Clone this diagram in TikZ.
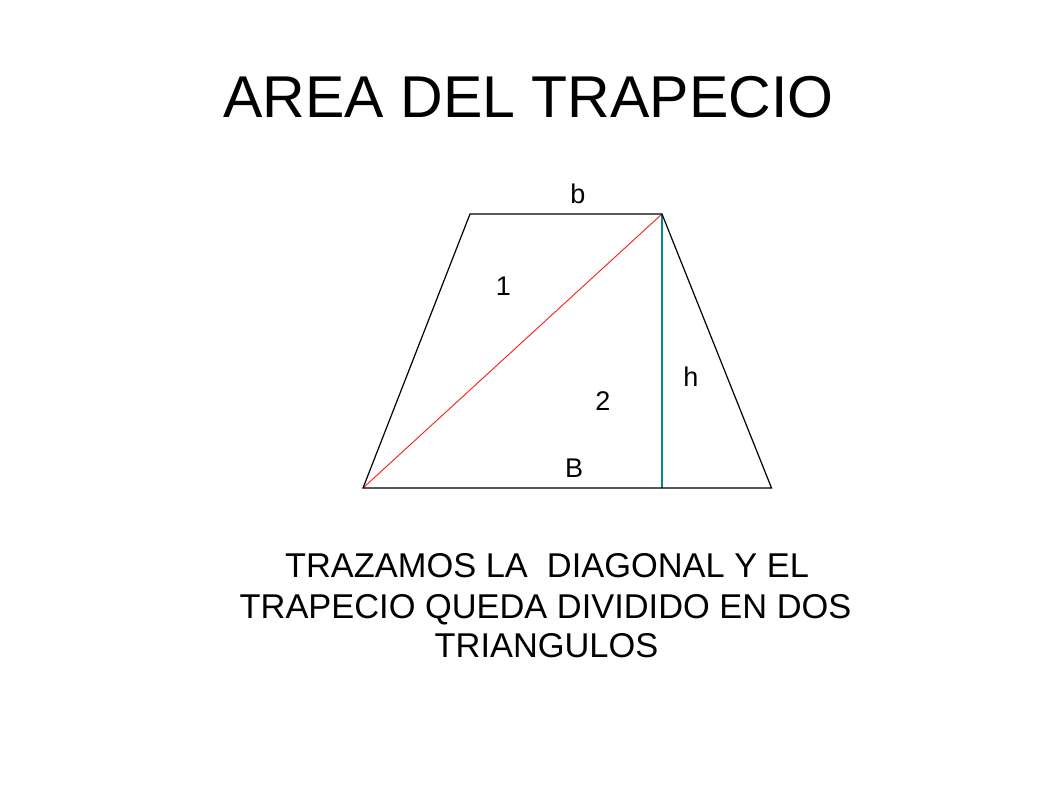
\documentclass[tikz,border=0pt]{standalone}
\usepackage{fontspec}
\setmainfont{Liberation Sans}
\begin{document}
\begin{tikzpicture}[x=1pt,y=-1pt,
  edge/.style={draw=black,line width=1.2pt},
  diag/.style={draw=red!90!white,line width=0.9pt},
  hgt/.style={draw=hcol,line width=1.1pt},
  lbl/.style={inner sep=0pt,font=\fontsize{27}{32}\selectfont},
  body/.style={inner sep=0pt,anchor=base,font=\fontsize{34.4}{40}\selectfont}]
\definecolor{hcol}{RGB}{0,140,128}
\useasboundingbox[fill=white] (0,0) rectangle (1058,793);
% title
\node[inner sep=0pt,anchor=base,font=\fontsize{59}{70}\selectfont] (title) at (528.5,117) {AREA DEL TRAPECIO};
% trapezoid corners
\coordinate (tl) at (470,214);
\coordinate (tr) at (662,214);
\coordinate (bl) at (363,488);
\coordinate (br) at (771.5,488);
\coordinate (hf) at (662,488);
\draw[diag] (bl) -- (tr);
\draw[hgt] (tr) -- (hf);
\draw[edge,line join=miter] (bl) -- (tl) -- (tr) -- (br) -- cycle;
% labels
\node[lbl] (lb) at (578,194) {b};
\node[lbl] (l1) at (503.5,286) {1};
\node[lbl] (lh) at (691,377) {h};
\node[lbl] (l2) at (603,401.5) {2};
\node[lbl] (lB) at (574,468) {B};
% body text
\node[body] (t1) at (547,577) {TRAZAMOS LA\ \ DIAGONAL Y EL};
\node[body] (t2) at (545.5,618) {TRAPECIO QUEDA DIVIDIDO EN DOS};
\node[body] (t3) at (546.5,657) {TRIANGULOS};
\end{tikzpicture}
\end{document}
